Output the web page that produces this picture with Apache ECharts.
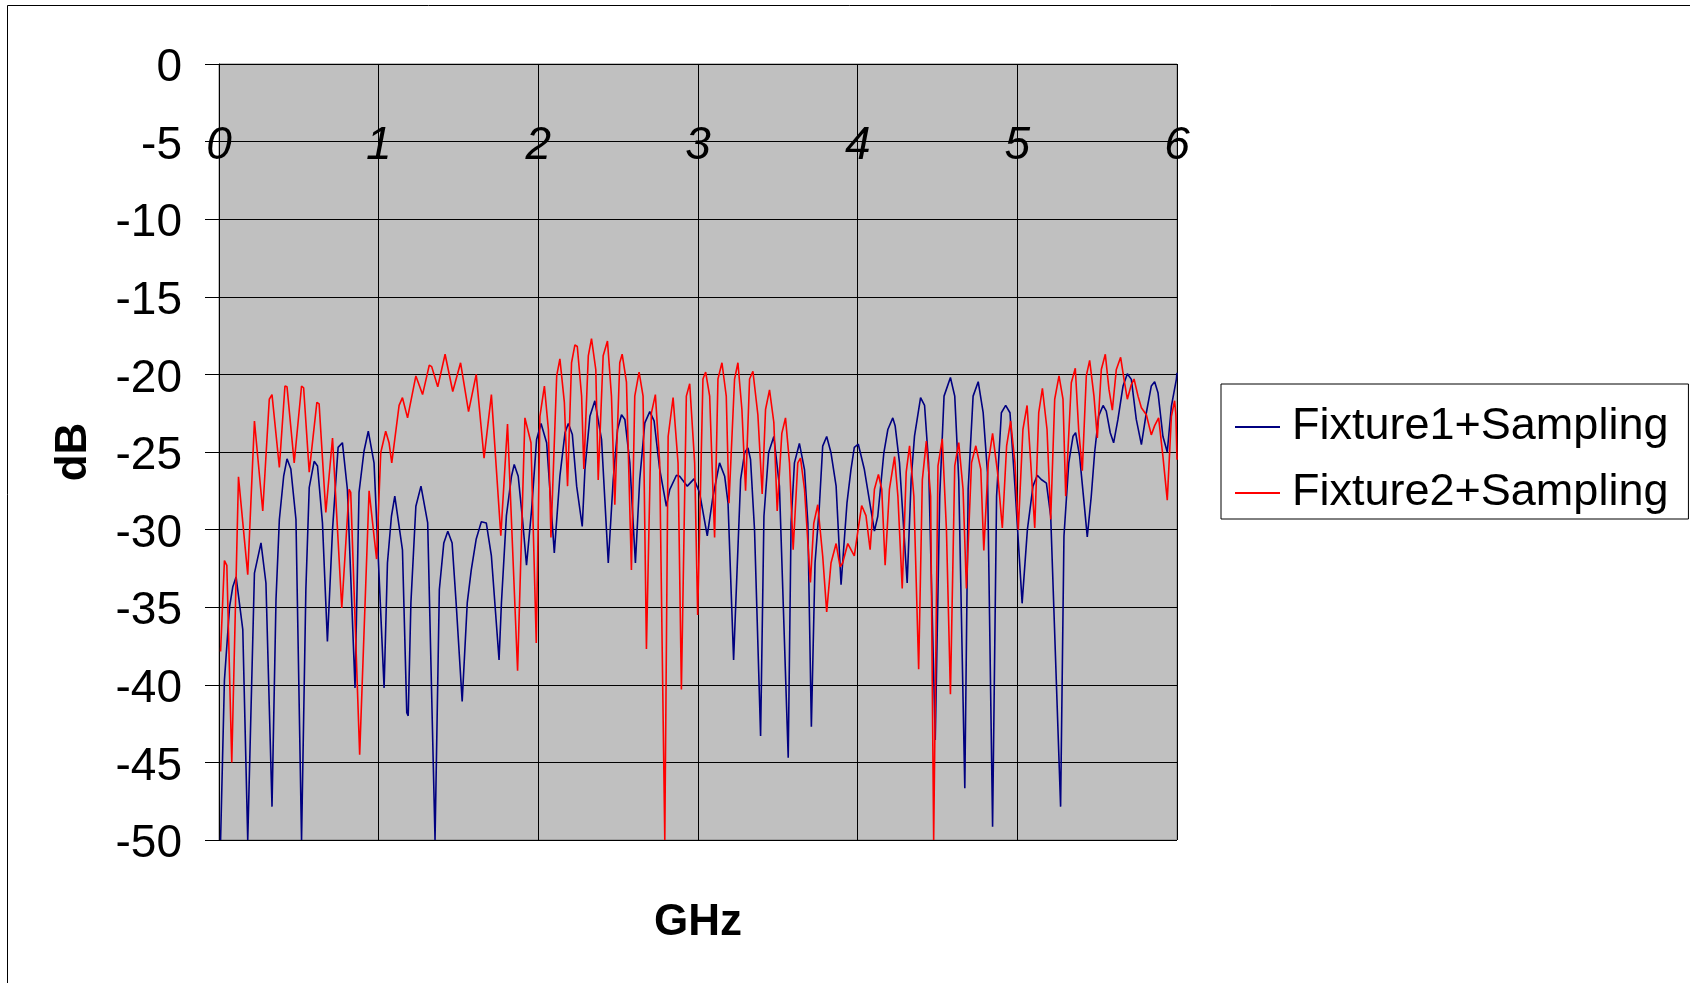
<!DOCTYPE html>
<html>
<head>
<meta charset="utf-8">
<script src="https://cdn.jsdelivr.net/npm/echarts@6/dist/echarts.min.js"></script>
<style>
  html, body { margin: 0; padding: 0; background: #fff; }
  #chart { width: 1690px; height: 983px; }
</style>
</head>
<body>
<div id="chart"></div>
<script>
// Frequency sweep (GHz) and measured response (dB) for each fixture
const seriesNames = ['Fixture1+Sampling', 'Fixture2+Sampling'];

const fixture1Freq = [0.010,0.018,0.034,0.066,0.086,0.107,0.149,0.180,0.222,0.263,0.294,0.332,0.357,0.378,0.405,0.426,0.450,0.482,0.517,0.544,0.565,0.596,0.617,0.648,0.679,0.711,0.746,0.773,0.804,0.852,0.877,0.908,0.935,0.971,1.034,1.055,1.080,1.101,1.149,1.176,1.185,1.202,1.233,1.265,1.307,1.353,1.380,1.408,1.433,1.460,1.485,1.523,1.555,1.580,1.611,1.643,1.674,1.706,1.754,1.769,1.800,1.832,1.849,1.874,1.901,1.926,1.958,1.989,2.017,2.052,2.100,2.135,2.167,2.188,2.213,2.240,2.275,2.292,2.323,2.354,2.396,2.438,2.469,2.496,2.521,2.542,2.573,2.608,2.635,2.667,2.698,2.725,2.760,2.802,2.823,2.865,2.885,2.933,2.975,3.010,3.058,3.094,3.135,3.167,3.188,3.223,3.244,3.267,3.292,3.313,3.329,3.354,3.392,3.413,3.442,3.475,3.510,3.565,3.583,3.604,3.635,3.667,3.688,3.710,3.733,3.760,3.781,3.806,3.833,3.865,3.896,3.933,3.958,3.979,4.004,4.042,4.105,4.126,4.164,4.189,4.220,4.235,4.262,4.310,4.335,4.356,4.394,4.419,4.444,4.486,4.514,4.541,4.581,4.608,4.633,4.671,4.692,4.723,4.755,4.786,4.813,4.845,4.870,4.900,4.927,4.954,4.985,5.030,5.063,5.098,5.125,5.150,5.182,5.209,5.271,5.292,5.322,5.349,5.365,5.390,5.422,5.438,5.463,5.484,5.509,5.537,5.557,5.582,5.603,5.630,5.662,5.689,5.714,5.745,5.777,5.808,5.839,5.860,5.881,5.912,5.939,5.965,5.996,6.000];
const fixture1Db = [-50,-50,-39.7,-35.0,-33.7,-33.05,-36.45,-50,-32.8,-30.86,-33.44,-47.85,-34.5,-29.35,-26.56,-25.44,-26.1,-29.35,-50,-33.87,-27.3,-25.6,-25.9,-29.57,-37.2,-30.0,-24.7,-24.4,-27.4,-40.2,-27.6,-24.95,-23.65,-25.7,-40.2,-32.15,-29.14,-27.85,-31.3,-41.8,-42.0,-34.7,-28.5,-27.2,-29.57,-50,-33.87,-30.86,-30.1,-30.86,-34.7,-41.07,-34.7,-32.6,-30.6,-29.5,-29.57,-31.7,-38.4,-34.7,-29.1,-26.56,-25.8,-26.56,-29.35,-32.3,-28.7,-24.2,-23.16,-24.4,-31.5,-26.56,-23.76,-23.16,-23.87,-27.2,-29.8,-26.1,-22.7,-21.7,-24.2,-32.15,-26.77,-23.55,-22.6,-22.9,-25.7,-32.15,-26.77,-23.12,-22.4,-23.0,-26.1,-28.5,-27.42,-26.5,-26.56,-27.2,-26.73,-27.63,-30.4,-27.85,-25.7,-26.56,-28.28,-38.4,-32.8,-26.77,-25.05,-24.73,-25.48,-30.0,-43.3,-29.14,-25.05,-24.0,-27.2,-44.7,-29.57,-25.7,-24.45,-26.13,-29.57,-42.7,-32.15,-28.5,-24.62,-24.0,-25.05,-27.2,-33.55,-28.3,-26.13,-24.7,-24.5,-26.13,-30.1,-29.14,-25.05,-23.55,-22.8,-23.33,-25.7,-33.44,-26.77,-23.98,-21.5,-22.0,-25.7,-43.55,-27.85,-21.4,-20.2,-21.4,-26.77,-46.67,-27.4,-21.4,-20.47,-22.47,-26.34,-49.14,-27.85,-22.47,-22.0,-22.47,-27.2,-34.75,-30.0,-27.2,-26.5,-26.77,-27.0,-29.14,-47.85,-30.43,-25.7,-23.98,-23.76,-25.27,-28.71,-30.47,-27.85,-25.05,-22.69,-22.0,-22.37,-23.76,-24.41,-22.9,-20.75,-19.96,-20.32,-22.9,-24.52,-22.47,-20.75,-20.47,-21.18,-24.0,-25.0,-22.04,-20.32,-19.9];

const fixture2Freq = [0.010,0.034,0.049,0.080,0.122,0.134,0.180,0.222,0.232,0.274,0.315,0.332,0.378,0.413,0.426,0.471,0.482,0.517,0.530,0.565,0.575,0.613,0.627,0.669,0.711,0.769,0.815,0.825,0.881,0.940,0.987,1.013,1.044,1.065,1.082,1.128,1.149,1.160,1.181,1.233,1.275,1.317,1.332,1.370,1.416,1.464,1.513,1.521,1.563,1.611,1.660,1.706,1.765,1.807,1.817,1.870,1.916,1.926,1.954,1.987,2.010,2.038,2.063,2.079,2.115,2.135,2.163,2.183,2.208,2.229,2.244,2.271,2.285,2.313,2.333,2.360,2.375,2.406,2.433,2.458,2.479,2.510,2.525,2.552,2.583,2.604,2.631,2.656,2.677,2.708,2.733,2.760,2.792,2.813,2.844,2.875,2.896,2.927,2.948,2.979,2.998,3.031,3.048,3.073,3.104,3.125,3.150,3.177,3.194,3.229,3.250,3.275,3.298,3.323,3.344,3.375,3.402,3.423,3.448,3.475,3.496,3.525,3.548,3.573,3.596,3.625,3.642,3.667,3.704,3.725,3.750,3.781,3.806,3.833,3.865,3.890,3.906,3.938,3.979,4.000,4.025,4.052,4.078,4.105,4.130,4.151,4.172,4.199,4.231,4.252,4.279,4.304,4.325,4.352,4.382,4.405,4.430,4.457,4.476,4.503,4.530,4.556,4.581,4.608,4.633,4.660,4.681,4.713,4.740,4.771,4.790,4.818,4.845,4.876,4.906,4.933,4.958,4.985,5.006,5.035,5.061,5.084,5.109,5.134,5.157,5.186,5.209,5.234,5.261,5.286,5.303,5.338,5.363,5.384,5.407,5.432,5.453,5.480,5.501,5.526,5.551,5.574,5.595,5.620,5.647,5.668,5.689,5.714,5.731,5.756,5.777,5.808,5.839,5.860,5.885,5.912,5.939,5.965,5.985,5.993,6.000];
const fixture2Db = [-37.85,-32.0,-32.3,-45.0,-26.6,-26.7,-32.9,-23.0,-22.9,-28.8,-21.6,-21.3,-26.0,-20.75,-20.8,-25.7,-25.7,-20.75,-20.86,-26.3,-26.3,-21.8,-21.9,-28.9,-24.1,-35.05,-27.4,-27.6,-44.5,-27.5,-31.9,-25.05,-23.66,-24.4,-25.7,-22.0,-21.5,-21.6,-22.8,-20.1,-21.3,-19.4,-19.5,-20.8,-18.7,-21.1,-19.25,-19.25,-22.4,-20.0,-25.4,-21.3,-30.4,-23.2,-23.2,-39.1,-22.8,-22.7,-24.4,-37.3,-22.7,-20.75,-23.55,-30.5,-20.1,-19.0,-21.8,-27.2,-19.25,-18.1,-18.2,-21.4,-26.1,-18.8,-17.7,-19.7,-26.8,-18.8,-17.85,-21.4,-28.4,-19.25,-18.7,-20.5,-32.6,-21.4,-19.85,-21.4,-37.7,-22.5,-21.3,-25.7,-50,-24.0,-21.5,-25.7,-40.3,-21.4,-20.6,-25.7,-35.5,-20.3,-19.85,-21.4,-30.5,-20.3,-19.25,-21.4,-28.3,-20.3,-19.25,-22.26,-27.5,-20.3,-19.8,-22.6,-27.7,-22.26,-21.0,-23.1,-28.8,-23.8,-22.8,-25.7,-31.3,-25.7,-25.4,-27.4,-33.4,-29.6,-28.4,-31.7,-35.3,-32.15,-30.9,-32.4,-32.15,-30.9,-31.7,-30.2,-28.45,-29.1,-31.3,-27.4,-26.45,-27.4,-32.3,-27.4,-25.3,-27.85,-33.8,-26.3,-24.6,-27.85,-39.0,-26.8,-24.3,-27.85,-50,-25.9,-24.15,-30.0,-40.6,-25.9,-24.4,-27.4,-33.8,-25.7,-24.6,-26.1,-31.35,-25.7,-23.8,-26.3,-29.9,-24.6,-23.0,-25.7,-30.0,-23.55,-22.0,-25.7,-29.9,-22.47,-20.9,-23.55,-29.35,-21.6,-20.1,-21.6,-27.85,-20.54,-19.6,-23.55,-26.2,-20.1,-19.1,-21.4,-24.1,-19.68,-18.7,-20.97,-22.3,-19.68,-18.9,-20.3,-21.6,-20.65,-20.3,-21.4,-22.15,-22.6,-23.9,-23.3,-22.8,-25.3,-28.1,-22.7,-21.7,-22.6,-25.5];

// Axis ticks
const freqTicks = [0, 1, 2, 3, 4, 5, 6];
const dbTicks = [0, -5, -10, -15, -20, -25, -30, -35, -40, -45, -50];

const FONT = '"Liberation Sans", Arial, sans-serif';
const pairs = (xs, ys) => xs.map((x, i) => [x, ys[i]]);

const chart = echarts.init(document.getElementById('chart'), null, { renderer: 'canvas' });

const gridTop = 64, gridBottomY = 840;
const dbPx = (gridBottomY - gridTop) / (dbTicks[0] - dbTicks[dbTicks.length - 1]);

chart.setOption({
  animation: false,
  backgroundColor: '#ffffff',
  color: ['#000080', '#ff0000'],
  grid: {
    left: 219, top: gridTop, right: 1690 - 1177, bottom: 983 - gridBottomY,
    show: true, backgroundColor: '#c0c0c0', borderColor: '#808080', borderWidth: 1
  },
  xAxis: {
    type: 'value',
    min: freqTicks[0], max: freqTicks[freqTicks.length - 1], interval: 1,
    position: 'top',
    // frequency axis crosses the dB axis at the -5 dB line
    offset: -(0 - dbTicks[1]) * dbPx,
    axisLine: { show: true, onZero: false, lineStyle: { color: '#000', width: 1 } },
    axisTick: { show: false },
    axisLabel: {
      show: true, margin: 0, verticalAlign: 'middle', align: 'center',
      formatter: v => '{t|' + v + '}',
      rich: { t: { fontSize: 46, fontStyle: 'italic', fontFamily: FONT, color: '#000', padding: [10, 0, 0, 0] } },
      showMinLabel: true, showMaxLabel: true
    },
    splitLine: { show: true, lineStyle: { color: '#000', width: 1 } }
  },
  yAxis: {
    type: 'value',
    min: dbTicks[dbTicks.length - 1], max: dbTicks[0], interval: 5,
    name: 'dB', nameLocation: 'middle', nameGap: 123, nameRotate: 90,
    nameTextStyle: { fontSize: 44, fontWeight: 'bold', fontFamily: FONT, color: '#000' },
    axisLine: { show: true, lineStyle: { color: '#000', width: 1 } },
    axisTick: { show: true, inside: false, length: 14, lineStyle: { color: '#000' } },
    axisLabel: {
      margin: 37,
      formatter: v => '{t|' + v + '}',
      rich: { t: { fontSize: 46, fontFamily: FONT, color: '#000', padding: [9, 0, 0, 0] } }
    },
    splitLine: { show: true, lineStyle: { color: '#000', width: 1 } }
  },
  legend: {
    orient: 'vertical', left: 1221, top: 384,
    padding: [18, 20, 1, 14],
    itemWidth: 45, itemHeight: 2, itemGap: 16, icon: 'rect',
    borderColor: '#000', borderWidth: 1, backgroundColor: '#fff',
    textStyle: { fontSize: 45, fontFamily: FONT, color: '#000', lineHeight: 50, padding: [0, 0, 0, 7] },
    data: seriesNames
  },
  graphic: [
    { type: 'rect', silent: true, z: -10,
      shape: { x: 7.5, y: 5.5, width: 1800, height: 1100 },
      style: { fill: 'none', stroke: '#000', lineWidth: 1 } },
    { type: 'text', silent: true, x: 698, y: 923,
      style: { text: 'GHz', font: 'bold 44px ' + FONT, fill: '#000', align: 'center', verticalAlign: 'middle' } }
  ],
  series: [
    { name: seriesNames[0], type: 'line', symbol: 'none', clip: true,
      lineStyle: { width: 1.6, color: '#000080' },
      data: pairs(fixture1Freq, fixture1Db) },
    { name: seriesNames[1], type: 'line', symbol: 'none', clip: true,
      lineStyle: { width: 1.6, color: '#ff0000' },
      data: pairs(fixture2Freq, fixture2Db) }
  ]
});
</script>
</body>
</html>
